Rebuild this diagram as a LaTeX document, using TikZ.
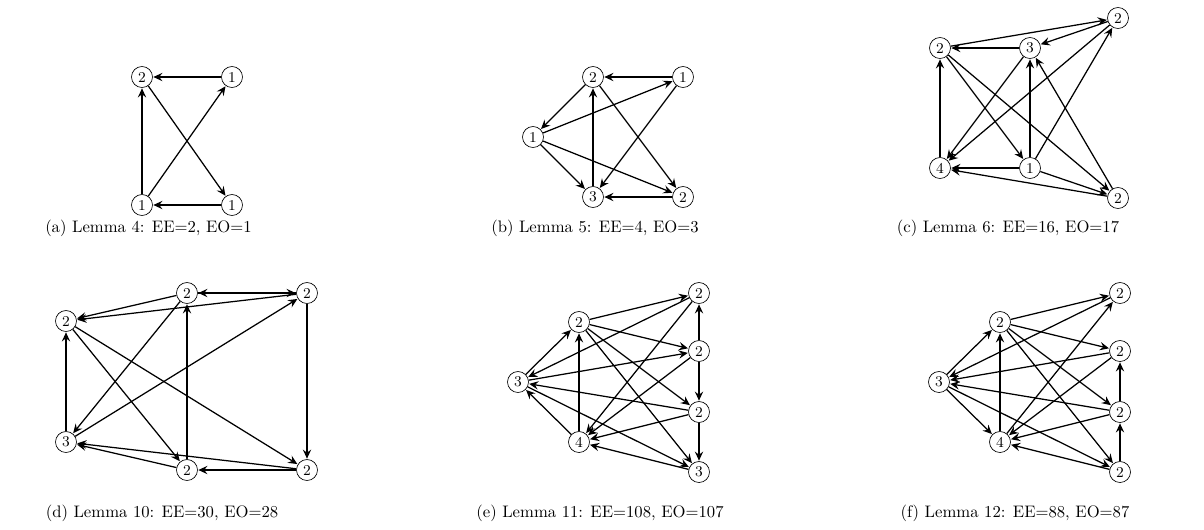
\documentclass[tikz,border=0pt]{standalone}
\usetikzlibrary{arrows.meta}
\begin{document}
\begin{tikzpicture}[x=0.6pt,y=-0.6pt,
  vtx/.style={draw,circle,line width=0.4pt,minimum size=12.6pt,inner sep=0pt,font=\fontsize{9}{10}\selectfont},
  arc/.style={-{Stealth[length=5.5pt,width=5pt,inset=2pt]},line width=0.75pt,shorten >=0.3pt},
  captxt/.style={font=\fontsize{10}{12}\selectfont,anchor=center}]
\useasboundingbox (0,0) rectangle (1204,529);
% (a)
\node[vtx] (a2) at (142,77) {2};
\node[vtx] (a1) at (232,77) {1};
\node[vtx] (a3) at (142,205) {1};
\node[vtx] (a4) at (232,205) {1};
\draw[arc] (a1) -- (a2);
\draw[arc] (a3) -- (a2);
\draw[arc] (a3) -- (a1);
\draw[arc] (a2) -- (a4);
\draw[arc] (a4) -- (a3);
\node[captxt] (capa) at (148.5,228) {(a) Lemma 4: EE=2, EO=1};
% (b)
\node[vtx] (b2) at (593,77) {2};
\node[vtx] (b1) at (683,77) {1};
\node[vtx] (bL) at (533,137) {1};
\node[vtx] (b3) at (593,197) {3};
\node[vtx] (b4) at (683,197) {2};
\draw[arc] (b1) -- (b2);
\draw[arc] (b2) -- (bL);
\draw[arc] (bL) -- (b1);
\draw[arc] (b1) -- (b3);
\draw[arc] (b2) -- (b4);
\draw[arc] (bL) -- (b3);
\draw[arc] (bL) -- (b4);
\draw[arc] (b3) -- (b2);
\draw[arc] (b4) -- (b3);
\node[captxt] (capb) at (595,228) {(b) Lemma 5: EE=4, EO=3};
% (c)
\node[vtx] (cTR) at (1118,18) {2};
\node[vtx] (cL) at (940,48) {2};
\node[vtx] (c3) at (1030,48) {3};
\node[vtx] (c4) at (940,168) {4};
\node[vtx] (c1) at (1030,168) {1};
\node[vtx] (cBR) at (1118,198) {2};
\draw[arc] (c3) -- (cL);
\draw[arc] (cL) -- (cTR);
\draw[arc] (cTR) -- (c3);
\draw[arc] (c4) -- (cL);
\draw[arc] (cL) -- (c1);
\draw[arc] (cL) -- (cBR);
\draw[arc] (c3) -- (c4);
\draw[arc] (cTR) -- (c4);
\draw[arc] (c1) -- (c3);
\draw[arc] (c1) -- (cTR);
\draw[arc] (c1) -- (c4);
\draw[arc] (c1) -- (cBR);
\draw[arc] (cBR) -- (c4);
\draw[arc] (cBR) -- (c3);
\node[captxt] (capc) at (1008,228) {(c) Lemma 6: EE=16, EO=17};
% (d)
\node[vtx] (dtm) at (187,293) {2};
\node[vtx] (dtr) at (307,293) {2};
\node[vtx] (dl) at (66,321) {2};
\node[vtx] (d3) at (66,442) {3};
\node[vtx] (dbm) at (187,470) {2};
\node[vtx] (dbr) at (307,470) {2};
\draw[arc] (dtm) -- (dtr);
\draw[arc] (dtr) -- (dtm);
\draw[arc] (dtm) -- (dl);
\draw[arc] (dtr) -- (dl);
\draw[arc] (dtm) -- (d3);
\draw[arc] (d3) -- (dtr);
\draw[arc] (d3) -- (dl);
\draw[arc] (dl) -- (dbm);
\draw[arc] (dl) -- (dbr);
\draw[arc] (dbm) -- (dtm);
\draw[arc] (dtr) -- (dbr);
\draw[arc] (dbr) -- (dbm);
\draw[arc] (dbm) -- (d3);
\draw[arc] (dbr) -- (d3);
\node[captxt] (capd) at (162,513) {(d) Lemma 10: EE=30, EO=28};
% (e)
\node[vtx] (etr) at (699,293) {2};
\node[vtx] (eum) at (579,322) {2};
\node[vtx] (er2) at (699,351) {2};
\node[vtx] (e3) at (518,382) {3};
\node[vtx] (er3) at (699,412) {2};
\node[vtx] (e4) at (579,442) {4};
\node[vtx] (ebr) at (699,472) {3};
\draw[arc] (eum) -- (etr);
\draw[arc] (eum) -- (er2);
\draw[arc] (eum) -- (er3);
\draw[arc] (eum) -- (ebr);
\draw[arc] (e3) -- (eum);
\draw[arc] (etr) -- (e3);
\draw[arc] (e3) -- (er2);
\draw[arc] (er3) -- (e3);
\draw[arc] (e3) -- (ebr);
\draw[arc] (e4) -- (e3);
\draw[arc] (e4) -- (eum);
\draw[arc] (etr) -- (e4);
\draw[arc] (er2) -- (e4);
\draw[arc] (er3) -- (e4);
\draw[arc] (ebr) -- (e4);
\draw[arc] (er2) -- (etr);
\draw[arc] (er2) -- (er3);
\draw[arc] (er3) -- (ebr);
\node[captxt] (cape) at (600,513) {(e) Lemma 11: EE=108, EO=107};
% (f)
\node[vtx] (ftr) at (1120,293) {2};
\node[vtx] (fum) at (1000,322) {2};
\node[vtx] (fr2) at (1120,351) {2};
\node[vtx] (f3) at (939,382) {3};
\node[vtx] (fr3) at (1120,412) {2};
\node[vtx] (f4) at (1000,442) {4};
\node[vtx] (fbr) at (1120,472) {2};
\draw[arc] (fum) -- (ftr);
\draw[arc] (fum) -- (fr2);
\draw[arc] (fum) -- (fr3);
\draw[arc] (fum) -- (fbr);
\draw[arc] (f3) -- (fum);
\draw[arc] (ftr) -- (f3);
\draw[arc] (fr2) -- (f3);
\draw[arc] (fr3) -- (f3);
\draw[arc] (f3) -- (f4);
\draw[arc] (f3) -- (fbr);
\draw[arc] (f4) -- (fum);
\draw[arc] (f4) -- (ftr);
\draw[arc] (fr2) -- (f4);
\draw[arc] (fr3) -- (f4);
\draw[arc] (fbr) -- (f4);
\draw[arc] (fr3) -- (fr2);
\draw[arc] (fbr) -- (fr3);
\node[captxt] (capf) at (1015,513) {(f) Lemma 12: EE=88, EO=87};
\end{tikzpicture}
\end{document}
